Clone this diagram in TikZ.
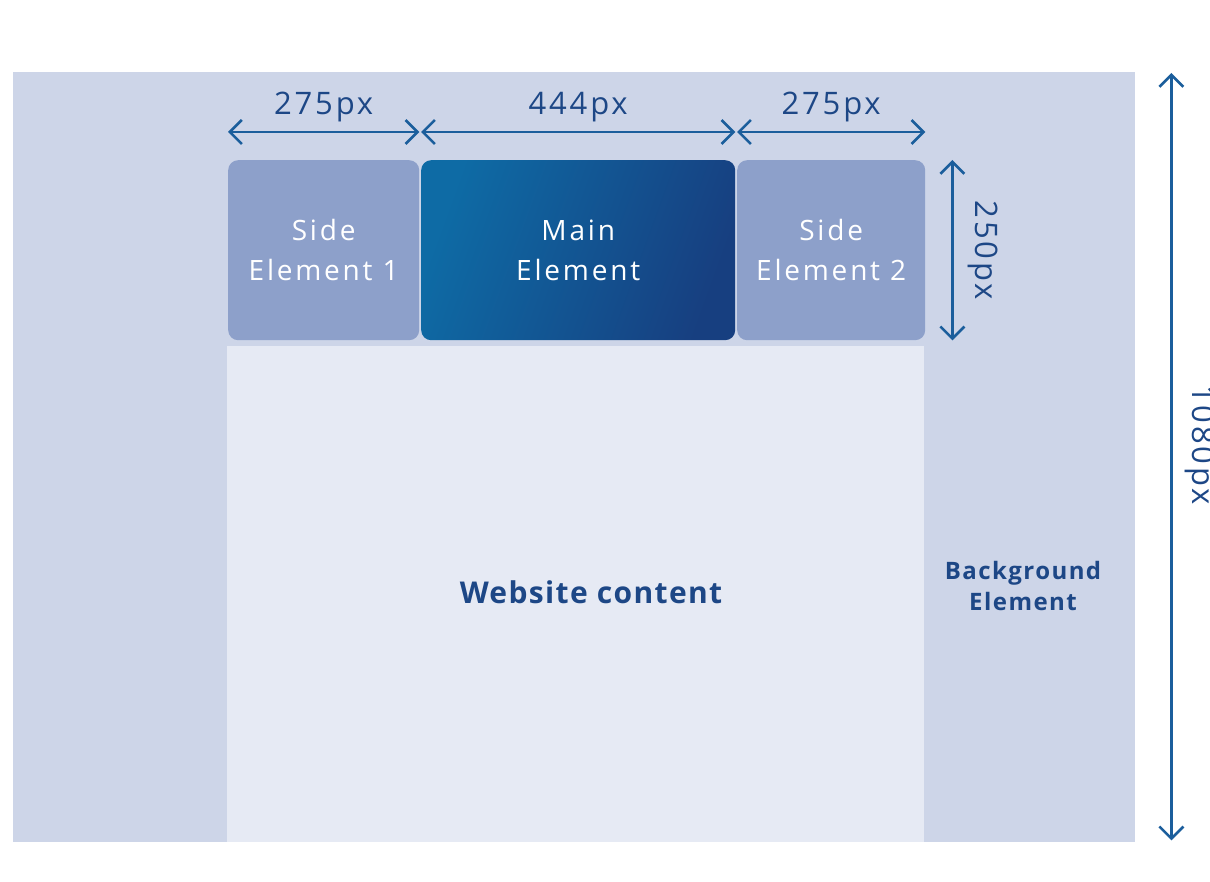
\documentclass[tikz,border=0pt]{standalone}
\usepackage{fontspec}
\setmainfont{Open Sans}[LetterSpace=3]
\newfontfamily\dimfont{Open Sans}[LetterSpace=9]
\newfontfamily\blockfont{Open Sans}[LetterSpace=10]
\newfontfamily\webfont{Open Sans}[LetterSpace=4.5]
\newfontfamily\bgfont{Open Sans}[LetterSpace=6]
\usetikzlibrary{arrows.meta}

\definecolor{bgblue}{HTML}{CDD5E8}
\definecolor{contentblue}{HTML}{E6EAF4}
\definecolor{sideblue}{HTML}{8DA0CA}
\definecolor{mainlight}{HTML}{0E6BA5}
\definecolor{maindark}{HTML}{173F80}
\definecolor{textblue}{HTML}{1D4786}
\definecolor{dimblue}{HTML}{1B5E9C}

\tikzset{
	block/.style={inner sep=0pt, rounded corners=10pt, align=center, text=white, font=\blockfont\fontsize{28}{40}\selectfont},
	dimline/.style={line width=2.6pt, dimblue, {Straight Barb[length=12pt,width=24pt]}-{Straight Barb[length=12pt,width=24pt]}},
	dimlabel/.style={text=textblue, font=\dimfont\fontsize{31}{36}\selectfont, inner sep=0pt}
}

\begin{document}
\begin{tikzpicture}[x=1pt, y=-1pt]
	
	\useasboundingbox (0,0) rectangle (1210,882);
	
	\node[fill=bgblue, minimum width=1122pt, minimum height=770pt, inner sep=0pt, anchor=north west] (bg) at (13,72) {};
	\node[fill=contentblue, minimum width=697pt, minimum height=496pt, inner sep=0pt, anchor=north west] (content) at (227,346) {};
	
	\node[block, fill=sideblue, minimum width=191pt, minimum height=180pt, anchor=north west] (side1) at (228,160) {Side\\Element 1};
	\node[block, left color=mainlight, right color=maindark, shading angle=70, minimum width=314pt, minimum height=180pt, anchor=north west] (main) at (421,160) {Main\\Element};
	\node[block, fill=sideblue, minimum width=188pt, minimum height=180pt, anchor=north west] (side2) at (737,160) {Side\\Element 2};
	
	\node[text=textblue, font=\webfont\fontsize{30}{36}\selectfont\bfseries] (webtext) at (591,592) {Website content};
	\node[text=textblue, font=\bgfont\fontsize{24}{31}\selectfont\bfseries, align=center] (bgtext) at (1023,586) {Background\\Element};
	
	\draw[dimline] ([yshift=28pt]side1.north west) -- ([yshift=28pt]side1.north east) node[dimlabel, midway, above=9pt] {275px};
	\draw[dimline] ([yshift=28pt]main.north west) -- ([yshift=28pt]main.north east) node[dimlabel, midway, above=9pt] {444px};
	\draw[dimline] ([yshift=28pt]side2.north west) -- ([yshift=28pt]side2.north east) node[dimlabel, midway, above=9pt] {275px};
	
	\draw[dimline] ([xshift=27pt]side2.north east) -- ([xshift=27pt]side2.south east) node[dimlabel, midway, rotate=-90, anchor=south, inner ysep=14pt] {250px};
	\draw[dimline] ([xshift=36pt,yshift=-1pt]bg.north east) -- ([xshift=36pt,yshift=2pt]bg.south east) node[dimlabel, pos=0.485, rotate=-90, anchor=south, inner ysep=12pt] {1080px};
	
\end{tikzpicture}
\end{document}
